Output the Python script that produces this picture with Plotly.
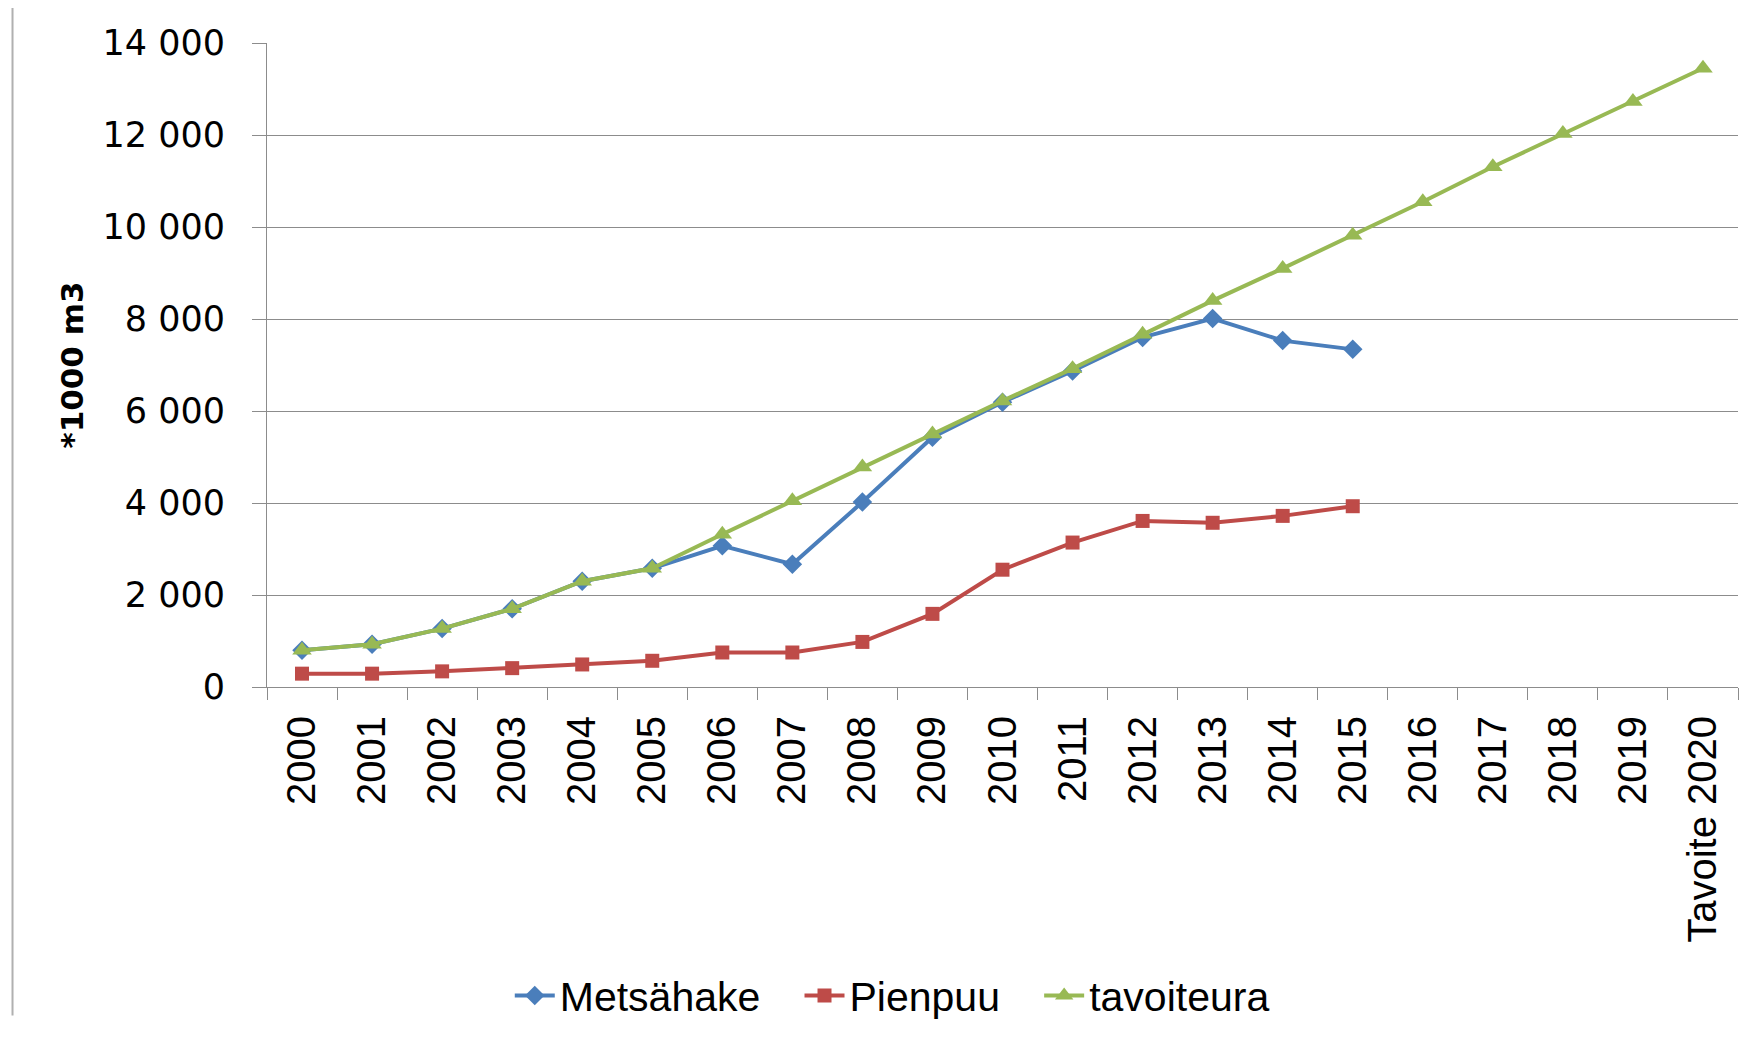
import plotly.graph_objects as go

categories = [str(y) for y in range(2000, 2020)] + ["Tavoite 2020"]

metsahake = [800, 930, 1270, 1700, 2300, 2580, 3070, 2670, 4020, 5430, 6190,
             6870, 7600, 8010, 7530, 7340]
pienpuu = [290, 290, 340, 410, 490, 570, 750, 750, 980, 1590, 2550,
           3140, 3610, 3570, 3720, 3930]
tavoiteura = [800, 930, 1270, 1700, 2300, 2580, 3320, 4050, 4780, 5500, 6220,
              6920, 7670, 8400, 9100, 9820, 10550, 11310, 12030, 12730, 13450]

y_ticks = [0, 2000, 4000, 6000, 8000, 10000, 12000, 14000]
y_tick_text = ["0", "2 000", "4 000", "6 000", "8 000", "10 000", "12 000", "14 000"]

BLUE = "#4a7ebb"
RED = "#be4b48"
GREEN = "#98b954"
GRID = "#8c8c8c"
NARROW = "Liberation Sans Narrow, Arial Narrow, Liberation Sans, sans-serif"
PAD = "\u00a0\u00a0\u00a0"

fig = go.Figure()
fig.add_trace(go.Scatter(x=categories[:len(metsahake)], y=metsahake, name="Metsähake" + PAD,
                         mode="lines+markers", line=dict(color=BLUE, width=4),
                         marker=dict(symbol="diamond", size=15, color=BLUE)))
fig.add_trace(go.Scatter(x=categories[:len(pienpuu)], y=pienpuu, name="Pienpuu" + PAD,
                         mode="lines+markers", line=dict(color=RED, width=4),
                         marker=dict(symbol="square", size=14, color=RED)))
fig.add_trace(go.Scatter(x=categories, y=tavoiteura, name="tavoiteura",
                         mode="lines+markers", line=dict(color=GREEN, width=4),
                         marker=dict(symbol="triangle-up", size=17, color=GREEN)))

fig.update_layout(
    width=1758, height=1042,
    paper_bgcolor="white", plot_bgcolor="white",
    margin=dict(l=259, r=28, t=35, b=363),
    showlegend=True,
    legend=dict(orientation="h", xref="container", yref="container",
                x=0.503, y=0.052, xanchor="center", yanchor="middle",
                font=dict(family=NARROW, size=41, color="black"),
                itemwidth=40, tracegroupgap=0),
    xaxis=dict(type="category", categoryorder="array", categoryarray=categories,
               range=[-0.5, len(categories) - 0.5],
               showline=True, linecolor=GRID, linewidth=1,
               ticks="outside", tickson="boundaries", ticklen=12, tickcolor=GRID,
               tickangle=-90, ticklabelstandoff=12,
               tickfont=dict(family=NARROW, size=40, color="black"),
               showgrid=False, zeroline=False),
    yaxis=dict(range=[0, 14000], tickvals=y_ticks, ticktext=y_tick_text,
               showline=True, linecolor=GRID, linewidth=1,
               ticks="outside", ticklen=14, tickcolor=GRID,
               ticklabelstandoff=20,
               tickfont=dict(family="DejaVu Sans", size=35, color="black"),
               showgrid=True, gridcolor=GRID, gridwidth=1, zeroline=False,
               title=dict(text="<b>*1000 m3</b>", standoff=9,
                          font=dict(family="DejaVu Sans", size=31, color="black"))),
    shapes=[dict(type="line", xref="paper", yref="paper", x0=-0.173, x1=-0.173,
                 y0=-0.51, y1=1.07, line=dict(color="#b0b0b0", width=2))],
)

fig.write_html("out.html")
